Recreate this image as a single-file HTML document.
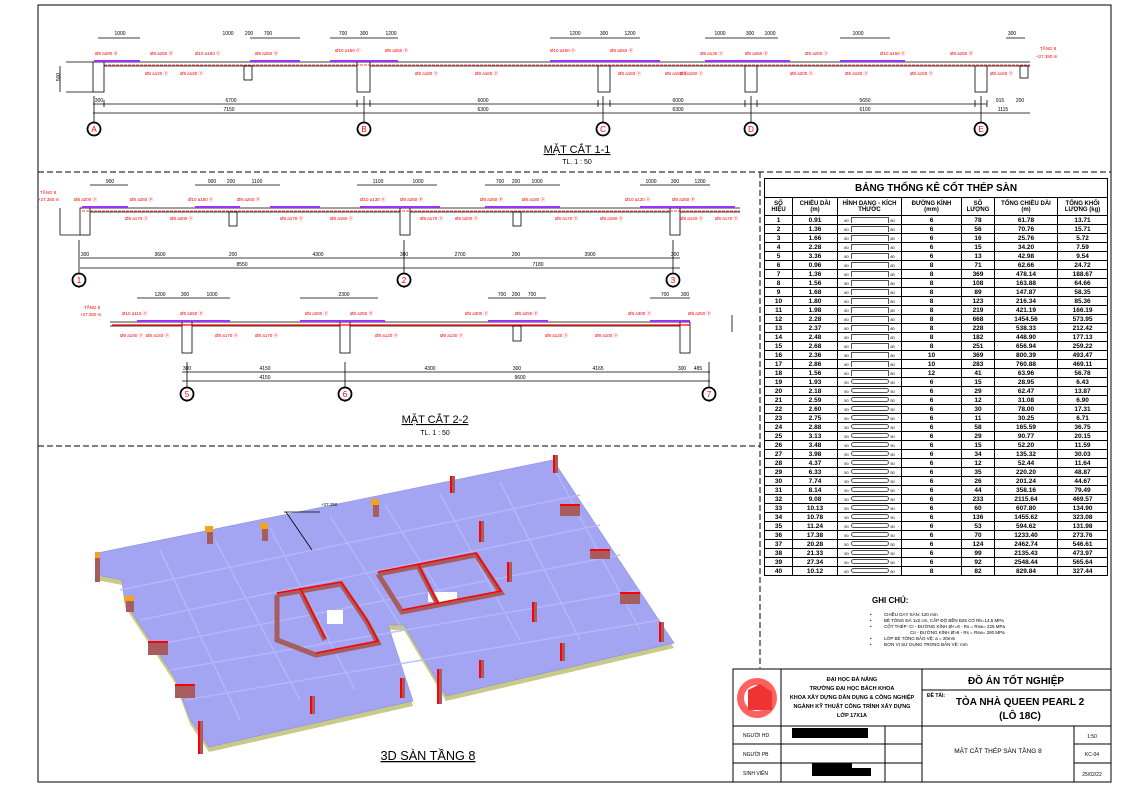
<!DOCTYPE html>
<html><head><meta charset="utf-8"><style>
body{margin:0;background:#fff;width:1124px;height:793px;overflow:hidden;position:relative;font-family:"Liberation Sans",sans-serif}
svg{position:absolute;left:0;top:0}
#tb{position:absolute;left:764px;top:178px;width:343px;border-collapse:collapse;font-size:6.5px;font-weight:bold;table-layout:fixed}
#tb td{border:1px solid #000;height:8px;padding:0;text-align:center;line-height:7px;overflow:hidden;white-space:nowrap}
#tb .h td{height:17px;font-size:6px;line-height:6px}
#tb .t td{height:18px;font-size:10px;border-bottom:1px solid #000}
.r{display:inline-block;width:36px;height:5px;border:1px solid #555;border-bottom:none;vertical-align:middle}
.b{display:inline-block;width:36px;height:3px;border:1px solid #555;border-radius:3px;vertical-align:middle}
.s{font-size:4px;font-weight:normal}
</style></head><body>
<svg width="1124" height="793" viewBox="0 0 1124 793" font-family="Liberation Sans, sans-serif">
<!-- frame -->
<rect x="38" y="5" width="1073" height="777" fill="none" stroke="#000" stroke-width="1"/>
<line x1="38" y1="172" x2="1111" y2="172" stroke="#000" stroke-dasharray="6,3"/>
<line x1="760" y1="172" x2="760" y2="668" stroke="#000" stroke-dasharray="6,3"/>
<line x1="38" y1="446" x2="760" y2="446" stroke="#000" stroke-dasharray="6,3"/>

<!-- SECTION 1-1 -->
<g stroke="#000" stroke-width="0.8" fill="none">
<path d="M93 62 H1030 M104 66 H357 M370 66 H598 M610 66 H745 M757 66 H975 M987 66 H1030"/>
<rect x="93" y="62" width="11" height="30" fill="#fff"/>
<rect x="357" y="62" width="13" height="30" fill="#fff"/>
<rect x="244" y="66" width="8" height="14"/>
<rect x="598" y="66" width="12" height="26"/>
<rect x="745" y="66" width="12" height="26"/>
<rect x="975" y="66" width="12" height="26"/>
<rect x="1020" y="66" width="8" height="12"/>
<path d="M93 104 H987 M93 113 H1030 M60 66 V92 M66 62 H93 M66 92 H93"/>
<path d="M94 96 V136 M364 96 V136 M603 96 V136 M751 96 V136 M981 96 V136"/>
<path d="M104 100 V107 M357 100 V107 M370 100 V107 M598 100 V107 M610 100 V107 M745 100 V107 M757 100 V107 M975 100 V107 M987 100 V107"/>
<path d="M98 38 H140 M250 38 H300 M330 38 H398 M550 38 H640 M705 38 H778 M840 38 H890 M1006 38 H1025"/>
</g>
<g stroke="#9b30ff" stroke-width="2"><path d="M94 61 H140 M250 61 H300 M330 61 H398 M550 61 H660 M705 61 H790 M840 61 H905"/></g>
<line x1="104" y1="65" x2="1030" y2="65" stroke="#f00" stroke-width="0.8" stroke-dasharray="3,1"/>
<g fill="#f00" font-size="4.5">
<text x="95" y="55">Ø8 a200 ⑨</text><text x="150" y="55">Ø8 a250 ⓟ</text><text x="195" y="55">Ø10 a160 ⓞ</text><text x="255" y="55">Ø8 a250 ⓟ</text>
<text x="335" y="52">Ø10 a150 ⓞ</text><text x="385" y="52">Ø8 a250 ⓟ</text><text x="550" y="52">Ø10 a150 ⓞ</text><text x="610" y="52">Ø8 a250 ⓟ</text>
<text x="700" y="55">Ø8 a130 ⓞ</text><text x="745" y="55">Ø8 a250 ⓟ</text><text x="805" y="55">Ø8 a200 ⓞ</text><text x="880" y="55">Ø10 a150 ⓞ</text><text x="950" y="55">Ø8 a250 ⓟ</text>
<text x="145" y="75">Ø8 a120 ⓞ</text><text x="180" y="75">Ø8 a180 ⓞ</text><text x="415" y="75">Ø8 a180 ⓞ</text><text x="475" y="75">Ø8 a160 ⓞ</text>
<text x="618" y="75">Ø8 a150 ⓞ</text><text x="665" y="75">Ø8 a150 ⓞ</text><text x="680" y="75">Ø8 a150 ⓞ</text><text x="790" y="75">Ø8 a200 ⓞ</text><text x="845" y="75">Ø8 a180 ⓞ</text><text x="910" y="75">Ø8 a150 ⓞ</text><text x="990" y="75">Ø8 a160 ⓞ</text>
<text x="1040" y="50">TẦNG 8</text><text x="1036" y="58">+27.350 m</text>
</g>
<g font-size="5" fill="#000" text-anchor="middle">
<text x="120" y="35">1000</text><text x="228" y="35">1000</text><text x="249" y="35">200</text><text x="268" y="35">700</text>
<text x="343" y="35">700</text><text x="364" y="35">300</text><text x="391" y="35">1200</text><text x="575" y="35">1200</text><text x="604" y="35">300</text><text x="630" y="35">1200</text>
<text x="720" y="35">1000</text><text x="750" y="35">300</text><text x="770" y="35">1000</text><text x="858" y="35">1000</text><text x="1012" y="35">300</text>
<text x="99" y="102">300</text><text x="231" y="102">6700</text><text x="483" y="102">6000</text><text x="678" y="102">6000</text><text x="865" y="102">5650</text><text x="1000" y="102">915</text><text x="1020" y="102">200</text>
<text x="229" y="111">7150</text><text x="483" y="111">6300</text><text x="678" y="111">6300</text><text x="865" y="111">6100</text><text x="1003" y="111">1115</text>
<text x="60" y="77" transform="rotate(-90 60 77)">500</text>
</g>
<g stroke="#000" stroke-width="1.8" fill="#fff"><circle cx="94" cy="129" r="6.5"/><circle cx="364" cy="129" r="6.5"/><circle cx="603" cy="129" r="6.5"/><circle cx="751" cy="129" r="6.5"/><circle cx="981" cy="129" r="6.5"/></g>
<g fill="#f00" font-size="8" text-anchor="middle"><text x="94" y="132">A</text><text x="364" y="132">B</text><text x="603" y="132">C</text><text x="751" y="132">D</text><text x="981" y="132">E</text></g>
<text x="577" y="153" font-size="11" text-anchor="middle" text-decoration="underline">MẶT CẮT 1-1</text>
<text x="577" y="164" font-size="7" text-anchor="middle">TL. 1 : 50</text>

<!-- SECTION 2-2 upper -->
<g stroke="#000" stroke-width="0.8" fill="none">
<path d="M80 208 H740 M90 212 H400 M410 212 H670 M680 212 H740"/>
<rect x="80" y="208" width="10" height="27" fill="#fff"/><rect x="229" y="212" width="8" height="14"/>
<rect x="400" y="208" width="10" height="27" fill="#fff"/><rect x="513" y="212" width="8" height="14"/><rect x="670" y="208" width="10" height="27" fill="#fff"/>
<path d="M80 258 H680 M80 268 H680 M79 240 V288 M404 240 V288 M673 240 V288 M60 208 V235 M60 235 H80"/>
<path d="M90 185 H128 M195 185 H280 M357 185 H437 M485 185 H560 M640 185 H710"/>
</g>
<g stroke="#9b30ff" stroke-width="2"><path d="M82 207 H128 M195 207 H240 M270 207 H320 M360 207 H440 M485 207 H560 M640 207 H735"/></g>
<line x1="82" y1="211" x2="740" y2="211" stroke="#f00" stroke-width="0.8" stroke-dasharray="3,1"/>
<g fill="#f00" font-size="4.5">
<text x="40" y="194">TẦNG 8</text><text x="38" y="201">+27.350 m</text>
<text x="74" y="201">Ø8 a200 ⓞ</text><text x="130" y="201">Ø8 a250 ⓟ</text><text x="188" y="201">Ø10 a180 ⓞ</text><text x="237" y="201">Ø8 a250 ⓟ</text>
<text x="360" y="201">Ø10 a130 ⓞ</text><text x="400" y="201">Ø8 a250 ⓟ</text><text x="480" y="201">Ø8 a250 ⓟ</text><text x="522" y="201">Ø8 a180 ⓞ</text><text x="625" y="201">Ø10 a120 ⓞ</text><text x="672" y="201">Ø8 a250 ⓟ</text>
<text x="125" y="220">Ø8 a170 ⓞ</text><text x="170" y="220">Ø8 a200 ⓞ</text><text x="280" y="220">Ø8 a170 ⓞ</text><text x="330" y="220">Ø8 a160 ⓞ</text><text x="420" y="220">Ø8 a170 ⓞ</text><text x="455" y="220">Ø8 a200 ⓞ</text>
<text x="555" y="220">Ø8 a170 ⓞ</text><text x="600" y="220">Ø8 a180 ⓞ</text><text x="680" y="220">Ø8 a140 ⓞ</text><text x="715" y="220">Ø8 a170 ⓞ</text>
</g>
<g font-size="5" fill="#000" text-anchor="middle">
<text x="110" y="183">900</text><text x="212" y="183">900</text><text x="231" y="183">200</text><text x="257" y="183">1100</text><text x="378" y="183">1100</text><text x="418" y="183">1000</text>
<text x="500" y="183">700</text><text x="516" y="183">200</text><text x="537" y="183">1000</text><text x="651" y="183">1000</text><text x="675" y="183">300</text><text x="700" y="183">1200</text>
<text x="85" y="256">300</text><text x="160" y="256">3600</text><text x="233" y="256">200</text><text x="318" y="256">4300</text><text x="404" y="256">300</text><text x="460" y="256">2700</text><text x="516" y="256">200</text><text x="590" y="256">3900</text><text x="675" y="256">300</text>
<text x="242" y="266">8550</text><text x="538" y="266">7180</text>
</g>
<g stroke="#000" stroke-width="1.8" fill="#fff"><circle cx="79" cy="280" r="6.5"/><circle cx="404" cy="280" r="6.5"/><circle cx="673" cy="280" r="6.5"/></g>
<g fill="#f00" font-size="8" text-anchor="middle"><text x="79" y="283">1</text><text x="404" y="283">2</text><text x="673" y="283">3</text></g>

<!-- SECTION 2-2 lower -->
<g stroke="#000" stroke-width="0.8" fill="none">
<path d="M110 322 H690 M110 326 H182 M192 326 H340 M350 326 H680"/>
<rect x="182" y="322" width="10" height="31" fill="#fff"/><rect x="340" y="322" width="10" height="31" fill="#fff"/>
<rect x="513" y="326" width="8" height="15"/><rect x="680" y="322" width="10" height="31" fill="#fff"/>
<path d="M182 372 H710 M182 381 H710 M187 362 V402 M345 362 V402 M709 362 V402 M732 315 V332"/>
<path d="M137 298 H230 M300 298 H378 M488 298 H546 M650 298 H690"/>
</g>
<g stroke="#9b30ff" stroke-width="2"><path d="M137 321 H230 M300 321 H385 M488 321 H548 M650 321 H690"/></g>
<line x1="112" y1="325" x2="690" y2="325" stroke="#f00" stroke-width="1.2"/>
<g fill="#f00" font-size="4.5">
<text x="84" y="309">TẦNG 8</text><text x="80" y="316">+27.350 m</text>
<text x="122" y="315">Ø10 a110 ⓞ</text><text x="180" y="315">Ø8 a250 ⓟ</text><text x="305" y="315">Ø8 a200 ⓞ</text><text x="350" y="315">Ø8 a250 ⓟ</text>
<text x="465" y="315">Ø8 a300 ⓞ</text><text x="515" y="315">Ø8 a250 ⓟ</text><text x="628" y="315">Ø8 a300 ⓞ</text><text x="688" y="315">Ø8 a250 ⓟ</text>
<text x="120" y="337">Ø8 a100 ⓞ</text><text x="146" y="337">Ø8 a140 ⓞ</text><text x="215" y="337">Ø8 a170 ⓞ</text><text x="255" y="337">Ø8 a170 ⓞ</text>
<text x="375" y="337">Ø8 a120 ⓞ</text><text x="440" y="337">Ø8 a130 ⓞ</text><text x="545" y="337">Ø8 a120 ⓞ</text><text x="595" y="337">Ø8 a100 ⓞ</text>
</g>
<g font-size="5" fill="#000" text-anchor="middle">
<text x="160" y="296">1200</text><text x="185" y="296">300</text><text x="212" y="296">1000</text><text x="344" y="296">2300</text>
<text x="502" y="296">700</text><text x="516" y="296">200</text><text x="532" y="296">700</text><text x="665" y="296">700</text><text x="685" y="296">300</text>
<text x="187" y="370">300</text><text x="265" y="370">4150</text><text x="430" y="370">4300</text><text x="517" y="370">300</text><text x="598" y="370">4165</text><text x="682" y="370">300</text><text x="698" y="370">485</text>
<text x="265" y="379">4150</text><text x="520" y="379">9600</text>
</g>
<g stroke="#000" stroke-width="1.8" fill="#fff"><circle cx="187" cy="394" r="6.5"/><circle cx="345" cy="394" r="6.5"/><circle cx="709" cy="394" r="6.5"/></g>
<g fill="#f00" font-size="8" text-anchor="middle"><text x="187" y="397">5</text><text x="345" y="397">6</text><text x="709" y="397">7</text></g>
<text x="435" y="423" font-size="11" text-anchor="middle" text-decoration="underline">MẶT CẮT 2-2</text>
<text x="435" y="435" font-size="7" text-anchor="middle">TL. 1 : 50</text>

<!-- 3D -->
<polygon points="97,559 553,466 674,648 446,701 404,630 388,630 413,706 209,752 190,724 175,683 150,645 125,607 122,585 97,580" fill="#c9c98a"/>
<polygon points="97,553 553,460 674,643 446,696 404,625 388,625 413,701 209,747 190,719 175,678 150,640 125,602 122,580 97,575" fill="#a3a4f2" stroke="#8d8ee0" stroke-width="0.6"/>
<g stroke="#b8b9f8" stroke-width="1.5" fill="none" opacity="0.9">
<path d="M120 590 L580 495 M140 620 L600 525 M155 645 L620 555 M170 670 L640 590 M185 700 L660 620"/>
<path d="M160 550 L240 720 M215 540 L300 700 M270 528 L355 690 M330 516 L400 625 M385 505 L445 600 M440 494 L520 640 M500 482 L580 640 M555 470 L640 630"/>
</g>
<g fill="#fff"><rect x="428" y="592" width="29" height="10"/><rect x="327" y="610" width="16" height="14"/></g>
<g stroke="#a75d5d" stroke-width="5" fill="none">
<polyline points="378,574 476,555 501,593 402,612 378,574"/><polyline points="418,566 438,605"/><polyline points="277,595 341,584 367,622 378,643 316,655 277,640 277,595"/><polyline points="300,590 325,640"/>
</g>
<g stroke="#f00" stroke-width="1.6" fill="none">
<polyline points="378,572 476,553 501,591 402,610"/><polyline points="418,564 438,603"/><polyline points="277,593 341,582 367,620 378,641 316,653"/><polyline points="300,588 325,638"/>
</g>
<g fill="#a75d5d">
<rect x="553" y="455" width="5" height="18"/><rect x="450" y="476" width="5" height="17"/><rect x="560" y="504" width="20" height="12"/><rect x="479" y="521" width="5" height="21"/>
<rect x="590" y="549" width="20" height="10"/><rect x="507" y="562" width="5" height="20"/><rect x="620" y="592" width="20" height="12"/><rect x="532" y="602" width="5" height="20"/>
<rect x="659" y="622" width="5" height="20"/><rect x="560" y="643" width="5" height="18"/><rect x="479" y="660" width="5" height="18"/><rect x="437" y="669" width="5" height="35"/>
<rect x="400" y="678" width="5" height="20"/><rect x="310" y="696" width="5" height="18"/><rect x="198" y="721" width="5" height="33"/><rect x="175" y="684" width="20" height="14"/><rect x="148" y="641" width="20" height="14"/>
</g>
<g fill="#f00">
<rect x="553" y="455" width="2" height="18"/><rect x="450" y="476" width="2" height="17"/><rect x="560" y="504" width="20" height="2"/><rect x="479" y="521" width="2" height="21"/>
<rect x="590" y="549" width="20" height="2"/><rect x="507" y="562" width="2" height="20"/><rect x="620" y="592" width="20" height="2"/><rect x="532" y="602" width="2" height="20"/>
<rect x="659" y="622" width="2" height="20"/><rect x="560" y="643" width="2" height="18"/><rect x="479" y="660" width="2" height="18"/><rect x="437" y="669" width="2" height="35"/>
<rect x="400" y="678" width="2" height="20"/><rect x="310" y="696" width="2" height="18"/><rect x="198" y="721" width="2" height="33"/><rect x="175" y="684" width="20" height="2"/><rect x="148" y="641" width="20" height="2"/>
</g>
<g fill="#a75d5d"><rect x="95" y="552" width="5" height="30"/><rect x="207" y="528" width="6" height="16"/><rect x="262" y="525" width="6" height="16"/><rect x="373" y="501" width="6" height="16"/><rect x="126" y="598" width="8" height="14"/></g>
<g fill="#f7a21b"><rect x="95" y="552" width="5" height="6"/><rect x="205" y="526" width="8" height="6"/><rect x="260" y="523" width="8" height="6"/><rect x="371" y="499" width="8" height="6"/><rect x="124" y="596" width="10" height="5"/></g>
<path d="M284 512 H320 M286 512 L312 550" stroke="#000" stroke-width="0.8" fill="none"/>
<text x="321" y="506" font-size="4.5">+27,350</text>
<text x="428" y="760" font-size="13" text-anchor="middle" text-decoration="underline" textLength="95" lengthAdjust="spacingAndGlyphs">3D SÀN TẦNG 8</text>

<!-- notes -->
<text x="872" y="603" font-size="8" font-weight="bold">GHI CHÚ:</text>
<g font-size="4.5"><text x="870" y="616">•</text><text x="884" y="616">CHIỀU DÀY SÀN: 120 mm</text>
<text x="870" y="622">•</text><text x="884" y="622">BÊ TÔNG ĐÁ 1x2 cm, CẤP ĐỘ BỀN B25 CÓ Rb=14,5 MPa</text>
<text x="870" y="628">•</text><text x="884" y="628">CỐT THÉP: CI - ĐƯỜNG KÍNH Ø&lt;=8 - Rs = Rsw= 225 MPa</text>
<text x="910" y="634">CII - ĐƯỜNG KÍNH Ø&gt;8 - Rs = Rsw= 280 MPa</text>
<text x="870" y="640">•</text><text x="884" y="640">LỚP BÊ TÔNG BẢO VỆ: a = 20mm</text>
<text x="870" y="646">•</text><text x="884" y="646">ĐƠN VỊ SỬ DỤNG TRONG BẢN VẼ: mm</text></g>

<!-- title block -->
<g stroke="#000" stroke-width="1" fill="none">
<rect x="733" y="669" width="378" height="113"/>
<path d="M781 669 V782 M922 669 V782 M733 726 H1111 M922 690 H1111 M733 744 H922 M733 763 H922 M885 726 V782 M1074 726 V782 M1074 744 H1111 M1074 763 H1111"/>
</g>
<circle cx="757" cy="698" r="20" fill="#f44" opacity="0.85"/><circle cx="757" cy="698" r="13" fill="#fff"/>
<path d="M748 710 L748 690 L760 684 L772 692 L772 710 Z" fill="#e33"/>
<g font-size="5.5" font-weight="bold" text-anchor="middle"><text x="852" y="681">ĐẠI HỌC ĐÀ NẴNG</text><text x="852" y="690">TRƯỜNG ĐẠI HỌC BÁCH KHOA</text><text x="852" y="699">KHOA XÂY DỰNG DÂN DỤNG &amp; CÔNG NGHIỆP</text><text x="852" y="708">NGÀNH KỸ THUẬT CÔNG TRÌNH XÂY DỰNG</text><text x="852" y="717">LỚP 17X1A</text></g>
<text x="1016" y="684" font-size="10" font-weight="bold" text-anchor="middle">ĐỒ ÁN TỐT NGHIỆP</text>
<text x="927" y="697" font-size="5" font-weight="bold">ĐỀ TÀI:</text>
<text x="1020" y="705" font-size="10" font-weight="bold" text-anchor="middle">TÒA NHÀ QUEEN PEARL 2</text>
<text x="1020" y="719" font-size="10" font-weight="bold" text-anchor="middle">(LÔ 18C)</text>
<g font-size="5"><text x="743" y="737">NGƯỜI HD</text><text x="743" y="756">NGƯỜI PB</text><text x="743" y="775">SINH VIÊN</text></g>
<rect x="792" y="728" width="76" height="10" fill="#000"/><rect x="812" y="763" width="40" height="8" fill="#000"/><rect x="812" y="768" width="59" height="8" fill="#000"/>
<text x="998" y="753" font-size="6.5" text-anchor="middle">MẶT CẮT THÉP SÀN TẦNG 8</text>
<g font-size="5" text-anchor="middle"><text x="1092" y="738">1:50</text><text x="1092" y="756">KC-04</text><text x="1092" y="776">25/02/22</text></g>
</svg>

<table id="tb">
<colgroup><col style="width:28px"><col style="width:45px"><col style="width:64px"><col style="width:60px"><col style="width:33px"><col style="width:63px"><col style="width:50px"></colgroup>
<tr class="t"><td colspan="7">BẢNG THỐNG KÊ CỐT THÉP SÀN</td></tr>
<tr class="h"><td>SỐ<br>HIỆU</td><td>CHIỀU DÀI<br>(m)</td><td>HÌNH DẠNG - KÍCH<br>THƯỚC</td><td>ĐƯỜNG KÍNH<br>(mm)</td><td>SỐ<br>LƯỢNG</td><td>TỔNG CHIỀU DÀI<br>(m)</td><td>TỔNG KHỐI<br>LƯỢNG (kg)</td></tr>
<tr><td>1</td><td>0.91</td><td><span class="s">80</span> <span class="r"></span> <span class="s">80</span></td><td>6</td><td>78</td><td>61.78</td><td>13.71</td></tr>
<tr><td>2</td><td>1.36</td><td><span class="s">80</span> <span class="r"></span> <span class="s">80</span></td><td>6</td><td>56</td><td>70.76</td><td>15.71</td></tr>
<tr><td>3</td><td>1.66</td><td><span class="s">80</span> <span class="r"></span> <span class="s">80</span></td><td>6</td><td>16</td><td>25.76</td><td>5.72</td></tr>
<tr><td>4</td><td>2.28</td><td><span class="s">80</span> <span class="r"></span> <span class="s">80</span></td><td>6</td><td>15</td><td>34.20</td><td>7.59</td></tr>
<tr><td>5</td><td>3.36</td><td><span class="s">80</span> <span class="r"></span> <span class="s">80</span></td><td>6</td><td>13</td><td>42.98</td><td>9.54</td></tr>
<tr><td>6</td><td>0.96</td><td><span class="s">80</span> <span class="r"></span> <span class="s">80</span></td><td>8</td><td>71</td><td>62.66</td><td>24.72</td></tr>
<tr><td>7</td><td>1.36</td><td><span class="s">80</span> <span class="r"></span> <span class="s">80</span></td><td>8</td><td>369</td><td>478.14</td><td>188.67</td></tr>
<tr><td>8</td><td>1.56</td><td><span class="s">80</span> <span class="r"></span> <span class="s">80</span></td><td>8</td><td>108</td><td>163.88</td><td>64.66</td></tr>
<tr><td>9</td><td>1.68</td><td><span class="s">80</span> <span class="r"></span> <span class="s">80</span></td><td>8</td><td>89</td><td>147.87</td><td>58.35</td></tr>
<tr><td>10</td><td>1.80</td><td><span class="s">80</span> <span class="r"></span> <span class="s">80</span></td><td>8</td><td>123</td><td>216.34</td><td>85.36</td></tr>
<tr><td>11</td><td>1.98</td><td><span class="s">80</span> <span class="r"></span> <span class="s">80</span></td><td>8</td><td>219</td><td>421.19</td><td>166.19</td></tr>
<tr><td>12</td><td>2.28</td><td><span class="s">80</span> <span class="r"></span> <span class="s">80</span></td><td>8</td><td>668</td><td>1454.56</td><td>573.95</td></tr>
<tr><td>13</td><td>2.37</td><td><span class="s">80</span> <span class="r"></span> <span class="s">80</span></td><td>8</td><td>228</td><td>538.33</td><td>212.42</td></tr>
<tr><td>14</td><td>2.48</td><td><span class="s">80</span> <span class="r"></span> <span class="s">80</span></td><td>8</td><td>182</td><td>448.90</td><td>177.13</td></tr>
<tr><td>15</td><td>2.68</td><td><span class="s">80</span> <span class="r"></span> <span class="s">80</span></td><td>8</td><td>251</td><td>656.94</td><td>259.22</td></tr>
<tr><td>16</td><td>2.36</td><td><span class="s">80</span> <span class="r"></span> <span class="s">80</span></td><td>10</td><td>369</td><td>800.39</td><td>493.47</td></tr>
<tr><td>17</td><td>2.86</td><td><span class="s">80</span> <span class="r"></span> <span class="s">80</span></td><td>10</td><td>283</td><td>760.88</td><td>469.11</td></tr>
<tr><td>18</td><td>1.56</td><td><span class="s">80</span> <span class="r"></span> <span class="s">80</span></td><td>12</td><td>41</td><td>63.96</td><td>56.78</td></tr>
<tr><td>19</td><td>1.93</td><td><span class="s">50</span> <span class="b"></span> <span class="s">50</span></td><td>6</td><td>15</td><td>28.95</td><td>6.43</td></tr>
<tr><td>20</td><td>2.18</td><td><span class="s">50</span> <span class="b"></span> <span class="s">50</span></td><td>6</td><td>29</td><td>62.47</td><td>13.87</td></tr>
<tr><td>21</td><td>2.59</td><td><span class="s">50</span> <span class="b"></span> <span class="s">50</span></td><td>6</td><td>12</td><td>31.08</td><td>6.90</td></tr>
<tr><td>22</td><td>2.60</td><td><span class="s">50</span> <span class="b"></span> <span class="s">50</span></td><td>6</td><td>30</td><td>78.00</td><td>17.31</td></tr>
<tr><td>23</td><td>2.75</td><td><span class="s">50</span> <span class="b"></span> <span class="s">50</span></td><td>6</td><td>11</td><td>30.25</td><td>6.71</td></tr>
<tr><td>24</td><td>2.88</td><td><span class="s">50</span> <span class="b"></span> <span class="s">50</span></td><td>6</td><td>58</td><td>165.59</td><td>36.75</td></tr>
<tr><td>25</td><td>3.13</td><td><span class="s">50</span> <span class="b"></span> <span class="s">50</span></td><td>6</td><td>29</td><td>90.77</td><td>20.15</td></tr>
<tr><td>26</td><td>3.48</td><td><span class="s">50</span> <span class="b"></span> <span class="s">50</span></td><td>6</td><td>15</td><td>52.20</td><td>11.59</td></tr>
<tr><td>27</td><td>3.98</td><td><span class="s">50</span> <span class="b"></span> <span class="s">50</span></td><td>6</td><td>34</td><td>135.32</td><td>30.03</td></tr>
<tr><td>28</td><td>4.37</td><td><span class="s">50</span> <span class="b"></span> <span class="s">50</span></td><td>6</td><td>12</td><td>52.44</td><td>11.64</td></tr>
<tr><td>29</td><td>6.33</td><td><span class="s">50</span> <span class="b"></span> <span class="s">50</span></td><td>6</td><td>35</td><td>220.20</td><td>48.87</td></tr>
<tr><td>30</td><td>7.74</td><td><span class="s">50</span> <span class="b"></span> <span class="s">50</span></td><td>6</td><td>26</td><td>201.24</td><td>44.67</td></tr>
<tr><td>31</td><td>8.14</td><td><span class="s">50</span> <span class="b"></span> <span class="s">50</span></td><td>6</td><td>44</td><td>358.16</td><td>79.49</td></tr>
<tr><td>32</td><td>9.08</td><td><span class="s">50</span> <span class="b"></span> <span class="s">50</span></td><td>6</td><td>233</td><td>2115.64</td><td>469.57</td></tr>
<tr><td>33</td><td>10.13</td><td><span class="s">50</span> <span class="b"></span> <span class="s">50</span></td><td>6</td><td>60</td><td>607.80</td><td>134.90</td></tr>
<tr><td>34</td><td>10.78</td><td><span class="s">50</span> <span class="b"></span> <span class="s">50</span></td><td>6</td><td>136</td><td>1455.62</td><td>323.08</td></tr>
<tr><td>35</td><td>11.24</td><td><span class="s">50</span> <span class="b"></span> <span class="s">50</span></td><td>6</td><td>53</td><td>594.62</td><td>131.98</td></tr>
<tr><td>36</td><td>17.38</td><td><span class="s">50</span> <span class="b"></span> <span class="s">50</span></td><td>6</td><td>70</td><td>1233.40</td><td>273.76</td></tr>
<tr><td>37</td><td>20.28</td><td><span class="s">50</span> <span class="b"></span> <span class="s">50</span></td><td>6</td><td>124</td><td>2462.74</td><td>546.61</td></tr>
<tr><td>38</td><td>21.33</td><td><span class="s">50</span> <span class="b"></span> <span class="s">50</span></td><td>6</td><td>99</td><td>2135.43</td><td>473.97</td></tr>
<tr><td>39</td><td>27.34</td><td><span class="s">50</span> <span class="b"></span> <span class="s">50</span></td><td>6</td><td>92</td><td>2548.44</td><td>565.64</td></tr>
<tr><td>40</td><td>10.12</td><td><span class="s">60</span> <span class="b"></span> <span class="s">60</span></td><td>8</td><td>82</td><td>829.84</td><td>327.44</td></tr>
</table>
</body></html>
